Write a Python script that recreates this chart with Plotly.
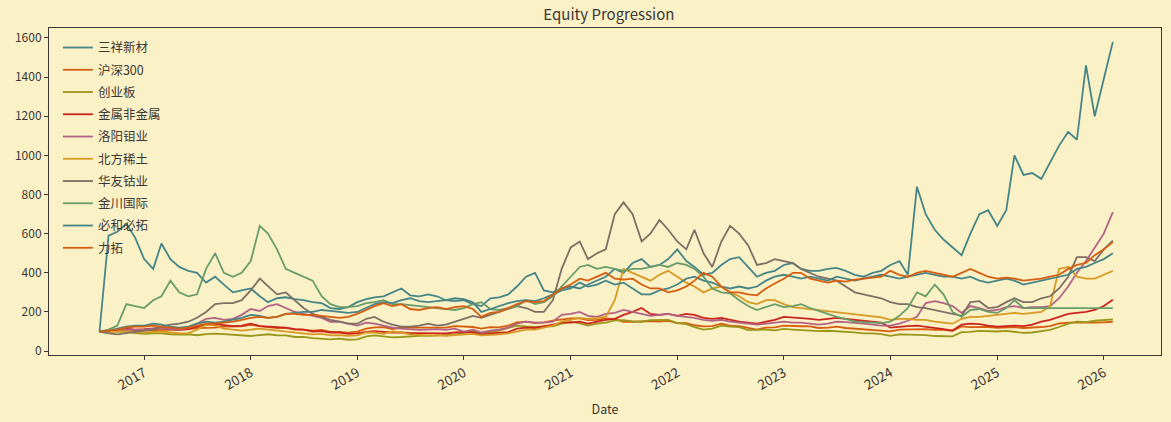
import pandas as pd
import plotly.graph_objects as go

dates = pd.date_range("2016-08-01", periods=115, freq="MS")

names = ["三祥新材", "沪深300", "创业板", "金属非金属", "洛阳钼业",
         "北方稀土", "华友钴业", "金川国际", "必和必拓", "力拓"]

sanxiang = [100, 590, 610, 650, 580,
            470, 420, 550, 470, 430, 410, 400, 350, 380, 340, 300, 310,
            320, 280, 250, 270, 275, 265, 260, 250, 245, 220, 215, 225,
            250, 265, 275, 280, 300, 320, 285, 280, 290, 280, 260, 255,
            260, 240, 230, 270, 275, 290, 330, 380, 400, 310, 300, 320,
            330, 320, 340, 360, 380, 420, 400, 450, 470, 430, 440, 470,
            520, 460, 430, 390, 400, 440, 470, 480, 430, 380, 400, 410,
            440, 450, 420, 410, 410, 420, 425, 410, 390, 380, 400, 410,
            440, 460, 390, 840, 700, 620, 570, 530, 490, 600, 700, 720,
            640, 720, 1000, 900, 910, 880, 960, 1050, 1120, 1080, 1460, 1200,
            1390, 1580]

hs300 = [100, 102, 104, 110, 103,
         106, 108, 108, 108, 109, 115, 117, 119, 120, 125, 125, 126,
         134, 126, 122, 118, 119, 110, 110, 104, 108, 98, 98, 94,
         100, 115, 121, 122, 113, 120, 120, 119, 119, 122, 120, 128,
         125, 123, 115, 122, 121, 130, 147, 151, 143, 147, 156, 163,
         167, 167, 158, 160, 167, 163, 150, 150, 152, 153, 151, 154,
         143, 143, 132, 126, 128, 140, 130, 128, 119, 110, 120, 121,
         130, 127, 127, 126, 118, 120, 125, 118, 115, 112, 109, 107,
         101, 110, 111, 113, 112, 108, 108, 104, 126, 122, 122, 123,
         119, 122, 122, 118, 120, 123, 128, 141, 145, 145, 142, 145,
         147, 150]

chinext = [100, 100, 101, 100, 92,
           88, 91, 91, 86, 84, 86, 81, 87, 89, 87, 83, 82,
           77, 82, 86, 81, 80, 72, 73, 66, 64, 60, 64, 58,
           60, 75, 80, 76, 70, 72, 76, 78, 78, 79, 80, 84,
           92, 102, 92, 100, 104, 118, 130, 126, 124, 126, 127, 140,
           150, 141, 130, 140, 145, 157, 158, 152, 150, 158, 160, 160,
           143, 138, 122, 110, 115, 130, 125, 122, 107, 107, 110, 106,
           113, 110, 108, 105, 102, 104, 102, 98, 96, 90, 91, 87,
           78, 85, 84, 84, 82, 77, 77, 75, 97, 98, 103, 100,
           100, 103, 98, 93, 95, 100, 108, 123, 140, 150, 148, 155,
           158, 162]

metals = [100, 103, 108, 115, 110,
          112, 115, 118, 112, 108, 112, 125, 135, 138, 132, 128, 130,
          140, 128, 125, 122, 120, 112, 110, 100, 102, 95, 95, 88,
          90, 98, 102, 98, 95, 96, 92, 92, 92, 92, 90, 95,
          98, 95, 85, 90, 92, 97, 115, 120, 118, 125, 135, 145,
          145, 150, 140, 150, 160, 165, 185, 200, 220, 190, 185, 190,
          180, 190, 185, 170, 165, 170, 160, 150, 145, 140, 150, 160,
          175, 170, 168, 165, 160, 165, 170, 165, 160, 155, 150, 145,
          120, 125, 128, 130, 125, 118, 112, 105, 135, 140, 138, 130,
          125, 128, 130, 128, 135, 150, 160, 175, 190, 195, 200, 210,
          230, 262]

cmoc = [100, 102, 105, 110, 108,
        110, 115, 118, 112, 108, 120, 140, 165, 170, 160, 165, 185,
        215, 205, 230, 240, 220, 200, 190, 180, 170, 150, 150, 140,
        130, 145, 140, 130, 120, 115, 110, 108, 110, 112, 108, 115,
        100, 110, 95, 105, 110, 120, 140, 150, 145, 145, 150, 185,
        190, 200, 180, 175, 190, 195, 210, 200, 190, 180, 185, 190,
        180, 175, 170, 160, 155, 160, 150, 145, 140, 135, 140, 145,
        150, 145, 145, 140, 135, 140, 150, 148, 145, 140, 135, 130,
        130, 140, 155, 175, 245, 255, 245, 230, 195, 230, 220, 205,
        210, 225, 230, 220, 225, 225, 230, 270, 330, 400, 460, 530,
        600, 710]

rareearth = [100, 98, 100, 102, 98,
             95, 98, 100, 95, 90, 92, 110, 135, 130, 115, 110, 105,
             110, 115, 110, 105, 100, 95, 90, 85, 88, 80, 82, 78,
             80, 95, 95, 88, 100, 95, 85, 82, 80, 80, 78, 82,
             85, 88, 80, 82, 85, 90, 100, 110, 110, 120, 130, 150,
             160, 170, 165, 170, 175, 260, 420, 400, 380, 360, 390, 410,
             380, 350, 330, 300, 320, 330, 300, 280, 250, 240, 260, 260,
             240, 225, 220, 215, 210, 205, 200, 195, 190, 185, 178, 172,
             160, 165, 165, 160, 160, 150, 145, 140, 165, 175, 175, 180,
             185, 190, 195, 190, 195, 200, 230, 420, 430, 380, 370, 370,
             390, 410]

huayou = [100, 90, 85, 92, 100,
          105, 110, 125, 135, 140, 150, 170, 200, 240, 245, 245, 260,
          310, 370, 330, 290, 300, 260, 220, 190, 175, 160, 150, 140,
          140, 165, 175, 150, 135, 125, 125, 130, 140, 130, 135, 150,
          165, 180, 170, 185, 200, 215, 230, 220, 200, 200, 260, 420,
          530, 560, 470, 500, 520, 700, 760, 700, 560, 600, 670, 620,
          560, 520, 620, 500, 430, 560, 640, 600, 540, 440, 450, 470,
          460, 450, 420, 400, 380, 370, 360, 330, 300, 290, 280, 270,
          250, 240, 240, 225, 220, 210, 200, 190, 180, 250, 255, 220,
          225, 250, 270, 250, 250, 270, 280, 320, 380, 480, 480, 460,
          520, 565]

jinchuan = [100, 110, 130, 240, 230,
            220, 260, 280, 360, 300, 280, 290, 420, 500, 400, 380, 400,
            460, 640, 600, 520, 420, 400, 380, 360, 280, 240, 225, 225,
            230, 245, 250, 260, 240, 240, 235, 230, 225, 220, 215, 210,
            220, 240, 250, 215, 210, 220, 230, 260, 240, 250, 280, 330,
            380, 430, 440, 420, 430, 420, 410, 420, 420, 430, 440, 430,
            450, 440, 420, 380, 320, 300, 295, 260, 230, 210, 225, 240,
            225, 230, 240, 220, 205, 190, 175, 165, 150, 148, 145, 143,
            150, 180, 220, 300, 280, 340, 290, 200, 175, 210, 215, 200,
            195, 220, 260, 220, 220, 220, 220, 220, 220, 220, 220, 220,
            220, 220]

bhp = [100, 105, 115, 125, 130,
       130, 140, 135, 125, 120, 125, 140, 150, 145, 150, 160, 170,
       185, 180, 170, 175, 190, 195, 200, 200, 210, 205, 200, 195,
       200, 220, 240, 250, 245, 260, 270, 255, 250, 255, 260, 270,
       265, 250, 200, 215, 230, 245, 255, 260, 255, 270, 290, 310,
       320, 350, 330, 340, 360, 340, 350, 320, 290, 290, 310, 320,
       340, 370, 380, 360, 350, 330, 320, 330, 320, 330, 360, 380,
       390, 380, 370, 380, 370, 360, 380, 370, 360, 370, 380, 390,
       380, 370, 380, 390, 400, 390, 380, 380, 370, 380, 360, 350,
       360, 370, 360, 340, 350, 360, 370, 380, 390, 420, 430, 450,
       470, 500]

rio = [100, 105, 110, 120, 125,
       125, 130, 125, 120, 115, 120, 130, 140, 140, 145, 150, 160,
       170, 175, 170, 175, 190, 190, 185, 185, 180, 175, 170, 175,
       190, 210, 230, 245, 230, 240, 215, 210, 220, 225, 215, 225,
       230, 215, 175, 195, 200, 220, 240, 255, 250, 255, 290, 320,
       340, 370, 360, 380, 400, 370, 365, 370, 340, 320, 320, 300,
       310, 330, 360, 400, 380, 330, 300, 300, 290, 285, 320, 345,
       370, 400, 400, 370, 360, 350, 360, 355, 365, 370, 375, 380,
       410, 390, 380, 400, 410, 400, 390, 380, 400, 420, 400, 380,
       370, 375, 370, 360, 365, 370, 380, 390, 420, 440, 450, 490,
       520, 557]

series = [sanxiang, hs300, chinext, metals, cmoc, rareearth, huayou,
          jinchuan, bhp, rio]
colors = ["#458588", "#d65d0e", "#98971a", "#cc241d", "#b16286",
          "#d79921", "#7c6f64", "#689d6a", "#458588", "#d65d0e"]

BG = "#fbf1c7"
FG = "#3c3836"
FONT = "Noto Sans CJK SC, Lato, sans-serif"

fig = go.Figure()
for name, vals, col in zip(names, series, colors):
    fig.add_trace(go.Scatter(x=dates, y=vals, name=name, mode="lines",
                             legendgroup=name,
                             line=dict(color=col, width=1.8)))

year_ticks = pd.date_range("2017-01-01", "2026-01-01", freq="YS")

fig.update_layout(
    width=1171, height=422,
    paper_bgcolor=BG, plot_bgcolor=BG,
    margin=dict(l=49, r=10, t=28, b=67),
    font=dict(family=FONT, size=12, color=FG),
    title=dict(text="Equity Progression", x=0.52, xanchor="center",
               y=1 - 15 / 422, yref="container", yanchor="middle",
               font=dict(size=15, color=FG)),
    showlegend=True,
    legend=dict(x=0.008, y=0.985, xanchor="left", yanchor="top",
                bgcolor="rgba(0,0,0,0)", font=dict(size=12.5, color=FG),
                itemwidth=30, tracegroupgap=3),
    xaxis=dict(range=["2016-02-10", "2026-07-16"], tickvals=year_ticks,
               ticktext=[str(d.year) for d in year_ticks], tickangle=-30,
               tickfont=dict(size=13.5), automargin=False,
               showgrid=False, zeroline=False, showline=True, linecolor=FG,
               linewidth=1, mirror=True, ticks="outside", ticklen=4,
               tickcolor=FG, title=dict(text="Date", standoff=12,
                                        font=dict(size=12.5))),
    yaxis=dict(range=[-20, 1651], tickvals=list(range(0, 1601, 200)),
               automargin=False,
               showgrid=False, zeroline=False, showline=True, linecolor=FG,
               linewidth=1, mirror=True, ticks="outside", ticklen=4,
               tickcolor=FG),
)

fig.write_html(
    "out.html",
    config={"displayModeBar": False},
    post_script="document.body.style.margin='0';"
                "document.body.style.background='#fbf1c7';",
)
